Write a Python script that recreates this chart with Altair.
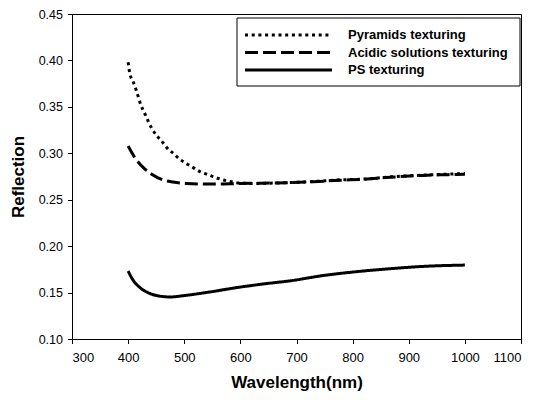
import altair as alt
import pandas as pd

series_names = ["Pyramids texturing", "Acidic solutions texturing", "PS texturing"]

pyr_wl = [400, 403, 409, 415, 421, 431, 442, 451, 460, 469, 481, 492, 504, 516, 528,
          540, 552, 564, 582, 600, 625, 650, 690, 730, 778, 820, 867, 926, 970, 1000]
pyr_r = [0.398, 0.386, 0.377, 0.367, 0.355, 0.341, 0.327, 0.319, 0.313, 0.306, 0.2996,
         0.2936, 0.2889, 0.2846, 0.2803, 0.2775, 0.2746, 0.2722, 0.2696, 0.2679, 0.2675,
         0.2678, 0.2685, 0.2696, 0.2714, 0.2722, 0.2746, 0.2765, 0.2775, 0.2782]

acid_wl = [400, 412, 430, 442, 463, 480, 504, 546, 582, 623, 660, 694, 730, 778, 820,
           867, 926, 970, 1000]
acid_r = [0.3078, 0.2953, 0.2829, 0.2775, 0.2711, 0.2690, 0.2675, 0.2668, 0.2672, 0.2677,
          0.2680, 0.2685, 0.2694, 0.2710, 0.2720, 0.2742, 0.2762, 0.2770, 0.2775]

ps_wl = [400, 409, 421, 439, 457, 475, 504, 546, 594, 647, 689, 748, 807, 867, 926, 1000]
ps_r = [0.1732, 0.1632, 0.1554, 0.1490, 0.1461, 0.1453, 0.1471, 0.1507, 0.1554, 0.1597,
        0.1627, 0.1684, 0.1725, 0.1757, 0.1782, 0.1796]

x_ticks = [300, 400, 500, 600, 700, 800, 900, 1000, 1100]
y_ticks = [0.10, 0.15, 0.20, 0.25, 0.30, 0.35, 0.40, 0.45]

rows = []
for name, wls, vals in zip(series_names, [pyr_wl, acid_wl, ps_wl], [pyr_r, acid_r, ps_r]):
    for w, v in zip(wls, vals):
        rows.append({"series": name, "wl": w, "r": v})
df = pd.DataFrame(rows)
legend_df = pd.DataFrame({"series": series_names})

FONT = "Liberation Sans"
dash_scale = alt.Scale(domain=series_names, range=[[3, 3.7], [13, 5], [1, 0]])
width_scale = alt.Scale(domain=series_names, range=[3, 3, 3.7])

lines = alt.Chart(df).mark_line(color="black", interpolate="monotone").encode(
    x=alt.X("wl:Q", scale=alt.Scale(domain=[300, 1100], nice=False),
            axis=alt.Axis(values=x_ticks, title="Wavelength(nm)", format="d",
                          labelFontSize=13, labelPadding=8, tickSize=4.5, titlePadding=10)),
    y=alt.Y("r:Q", scale=alt.Scale(domain=[0.10, 0.45], nice=False, zero=False),
            axis=alt.Axis(values=y_ticks, format=".2f", title="Reflection",
                          labelFontSize=12.5, labelPadding=5, tickSize=4.5, titlePadding=11)),
    strokeDash=alt.StrokeDash("series:N", scale=dash_scale, legend=None),
    strokeWidth=alt.StrokeWidth("series:N", scale=width_scale, legend=None),
    detail="series:N",
)

box = alt.Chart(pd.DataFrame({"a": [0]})).mark_rect(
    fill="white", stroke="black", strokeWidth=1
).encode(x=alt.value(165), x2=alt.value(448), y=alt.value(4), y2=alt.value(72))

leg_y = alt.Y("series:N", scale=alt.Scale(type="point", domain=series_names,
                                          range=[21, 56], padding=0), axis=None)

leg_lines = alt.Chart(legend_df).mark_rule(color="black").encode(
    x=alt.value(173), x2=alt.value(260), y=leg_y,
    strokeDash=alt.StrokeDash("series:N", scale=dash_scale, legend=None),
    strokeWidth=alt.StrokeWidth("series:N", scale=width_scale, legend=None),
)

leg_text = alt.Chart(legend_df).mark_text(
    align="left", baseline="middle", font=FONT, fontSize=13, fontWeight="bold", color="black"
).encode(x=alt.value(276), y=leg_y, text="series:N")

chart = alt.layer(lines, box, leg_lines, leg_text).resolve_scale(y="independent").properties(
    width=449, height=325,
    padding={"left": 64, "top": 6, "right": 6, "bottom": 53},
    autosize=alt.AutoSizeParams(type="none"),
).configure_view(stroke="black", strokeWidth=1).configure_axis(
    grid=False, domainColor="black", tickColor="black", labelColor="black",
    titleColor="black", labelFont=FONT, titleFont=FONT,
    titleFontSize=17, titleFontWeight="bold", domainWidth=1, tickWidth=1,
)

chart.save("out.html", embed_options={"renderer": "svg", "actions": False})
